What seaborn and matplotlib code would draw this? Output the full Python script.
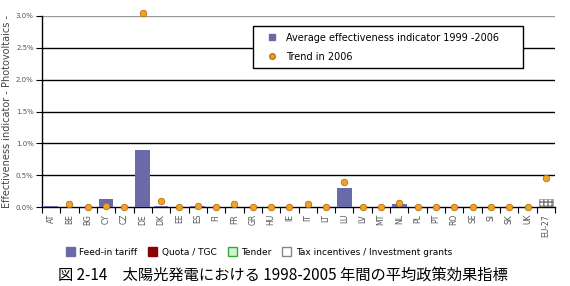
import numpy as np
import pandas as pd
import matplotlib
matplotlib.use("Agg")
import matplotlib.pyplot as plt
from matplotlib.patches import Patch
from matplotlib.lines import Line2D
import seaborn as sns

# данные (в %)
countries = ["AT", "BE", "BG", "CY", "CZ", "DE", "DK", "EE", "ES", "FI", "FR", "GR", "HU", "IE",
             "IT", "LT", "LU", "LV", "MT", "NL", "PL", "PT", "RO", "SE", "SI", "SK", "UK", "EU-27"]
avg_effect = [0.02, 0.005, 0.0, 0.13, 0.0, 0.90, 0.01, 0.0, 0.01, 0.0, 0.0, 0.0, 0.0, 0.0,
              0.0, 0.0, 0.30, 0.0, 0.0, 0.05, 0.0, 0.0, 0.0, 0.0, 0.0, 0.0, 0.0, 0.13]
trend_2006 = [np.nan, 0.05, 0.0, 0.01, 0.0, 3.05, 0.10, 0.0, 0.02, 0.0, 0.04, 0.0, 0.0, 0.0,
              0.05, 0.0, 0.40, 0.0, 0.0, 0.06, 0.0, 0.0, 0.0, 0.0, 0.0, 0.0, 0.0, 0.45]
y_ticks = [0.0, 0.5, 1.0, 1.5, 2.0, 2.5, 3.0]

bar_col = "#6b6aa8"
dot_col = "#f2a224"
dot_edge = "#b8700e"

df = pd.DataFrame({"country": countries, "avg": avg_effect, "trend": trend_2006})
df["x"] = np.arange(len(df))

plt.rcParams['font.family'] = ['DejaVu Sans']
fig = plt.figure(figsize=(5.7, 2.86), dpi=100)
ax = fig.add_axes([42 / 570, 1 - 207 / 286, 513 / 570, 191 / 286])

sns.barplot(data=df, x="country", y="avg", order=countries, color=bar_col,
            width=0.8, saturation=1, ax=ax, zorder=3)
# EU-27 столбец — штриховка
eu = ax.patches[-1]
eu.set_facecolor("white")
eu.set_edgecolor("#777777")
eu.set_hatch("||||----")
eu.set_linewidth(0.4)

sns.scatterplot(data=df.dropna(), x="x", y="trend", color=dot_col, edgecolor=dot_edge,
                linewidth=0.6, s=22, marker="o", ax=ax, zorder=5, clip_on=False, legend=False)

ax.set_xlim(-0.5, len(countries) - 0.5)
ax.set_ylim(0, 3.0)
ax.set_yticks(y_ticks)
ax.set_yticklabels([f"{v:.1f}%" for v in y_ticks], fontsize=5, color="#555555")
for v in y_ticks[1:]:
    ax.axhline(v, color="black" if v < 3 else "#999999", lw=1.0, zorder=1)

ax.set_xticks(df["x"])
ax.set_xticklabels(countries, rotation=90, fontsize=5.5, color="#555555")
ax.tick_params(axis="x", length=0, pad=5)
ax.set_xticks(np.arange(-0.5, len(countries)), minor=True)
ax.tick_params(axis="x", which="minor", length=4, width=0.8, color="black", direction="out")
ax.tick_params(axis="y", length=4, width=0.8, color="black", pad=2)
ax.set_xlabel("")
ax.set_ylabel("Effectiveness indicator - Photovoltaics -", fontsize=7, color="#444444", labelpad=3)

for s in ["top", "right"]:
    ax.spines[s].set_visible(False)
ax.spines["left"].set_linewidth(1.0)
ax.spines["bottom"].set_linewidth(1.0)

# легенда внутри графика
h_top = [Line2D([], [], marker="s", ls="", color=bar_col, markersize=4),
         Line2D([], [], marker="o", ls="", color=dot_col, markeredgecolor=dot_edge, markersize=4)]
leg = ax.legend(h_top, ["Average effectiveness indicator 1999 -2006", "Trend in 2006"],
                loc="upper left", bbox_to_anchor=(253 / 570, 1 - 26 / 286, 270 / 570, 0.0),
                bbox_transform=fig.transFigure, mode="expand", fontsize=7,
                frameon=True, fancybox=False, framealpha=1, edgecolor="black",
                handletextpad=0.1, handlelength=2.6, labelspacing=0.9,
                borderpad=0.7, borderaxespad=0)
leg.get_frame().set_linewidth(1.0)
leg.set_zorder(10)

# легенда снизу
h_bot = [Patch(facecolor=bar_col, edgecolor=bar_col),
         Patch(facecolor="#8b0000", edgecolor="#8b0000"),
         Patch(facecolor="#ccf5cc", edgecolor="#33aa33"),
         Patch(facecolor="white", edgecolor="#888888")]
fig.legend(h_bot, ["Feed-in tariff", "Quota / TGC", "Tender", "Tax incentives / Investment grants"],
           loc="center", bbox_to_anchor=(259 / 570, 1 - 252 / 286), ncol=4, fontsize=6.5,
           frameon=False, handlelength=1.0, handleheight=1.0, handletextpad=0.5, columnspacing=1.2)

fig.text(283 / 570, 1 - 275 / 286, "図 2-14　太陽光発電における 1998-2005 年間の平均政策効果指標",
         ha="center", va="center", fontsize=11, family=["Noto Sans CJK JP", "DejaVu Sans"])

fig.savefig("out.png", dpi=100)
